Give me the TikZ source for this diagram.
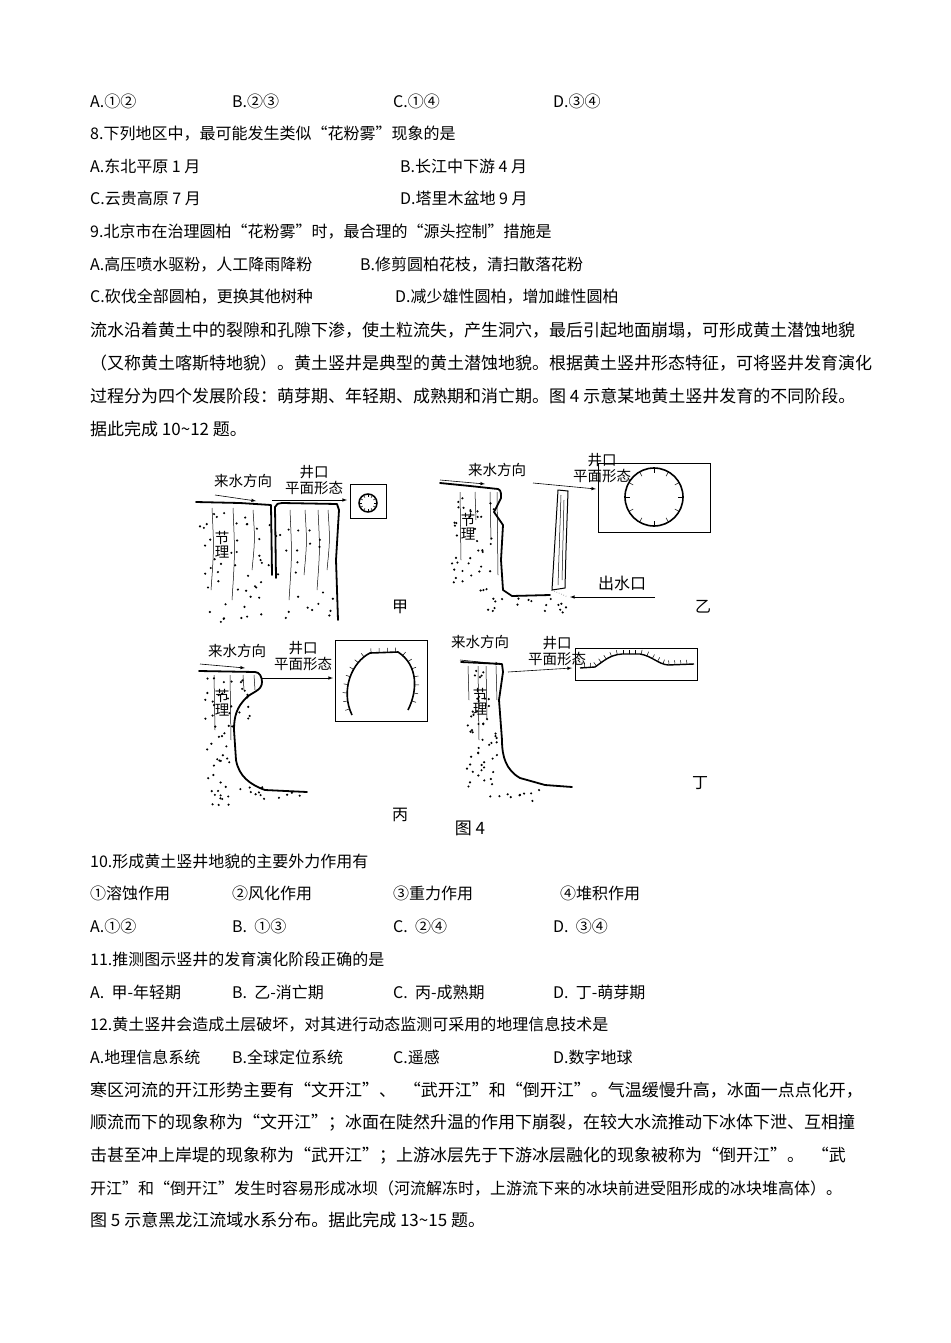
\documentclass[tikz,border=0pt]{standalone}
\usepackage{fontspec}
\setmainfont{Noto Sans CJK SC}
\usetikzlibrary{decorations.markings}
\begin{document}
\begin{tikzpicture}[x=1pt,y=-1pt,
  t/.style={anchor=west,inner sep=0pt,font=\fontsize{16}{18}\selectfont},
  p/.style={anchor=west,inner sep=0pt,font=\fontsize{17}{19}\selectfont},
  s/.style={inner sep=0pt,font=\fontsize{14.5}{16}\selectfont,align=center},
  thick line/.style={line width=1.8pt,line join=round,line cap=round},
  joint/.style={line width=0.5pt},
  arr/.style={-latex,line width=0.6pt},
  ticks/.style={postaction={decorate,decoration={markings,mark=between positions 0.04 and 0.97 step #1 with {\draw[line width=0.5pt] (0,0) -- (0,4.5pt);}}}}]
\useasboundingbox[fill=white] (0,0) rectangle (950,1343);
% ---- text above
\node[t] (a1) at (90,101) {A.①②};
\node[t] (b1) at (232,101) {B.②③};
\node[t] (c1) at (393,101) {C.①④};
\node[t] (d1) at (553,101) {D.③④};
\node[t] (q8) at (90,134) {8.下列地区中，最可能发生类似“花粉雾”现象的是};
\node[t] (q8a) at (90,166) {A.东北平原 1 月};
\node[t] (q8b) at (400,166) {B.长江中下游 4 月};
\node[t] (q8c) at (90,198) {C.云贵高原 7 月};
\node[t] (q8d) at (400,198) {D.塔里木盆地 9 月};
\node[t] (q9) at (90,232) {9.北京市在治理圆柏“花粉雾”时，最合理的“源头控制”措施是};
\node[t] (q9a) at (90,265) {A.高压喷水驱粉，人工降雨降粉};
\node[t] (q9b) at (360,265) {B.修剪圆柏花枝，清扫散落花粉};
\node[t] (q9c) at (90,297) {C.砍伐全部圆柏，更换其他树种};
\node[t] (q9d) at (395,297) {D.减少雄性圆柏，增加雌性圆柏};
\node[p] (pa1) at (90,330) {流水沿着黄土中的裂隙和孔隙下渗，使土粒流失，产生洞穴，最后引起地面崩塌，可形成黄土潜蚀地貌};
\node[p] (pa2) at (90,363) {（又称黄土喀斯特地貌）。黄土竖井是典型的黄土潜蚀地貌。根据黄土竖井形态特征，可将竖井发育演化};
\node[p] (pa3) at (90,396) {过程分为四个发展阶段：萌芽期、年轻期、成熟期和消亡期。图 4 示意某地黄土竖井发育的不同阶段。};
\node[p] (pa4) at (90,429) {据此完成 10\char`~12 题。};
% ---- figure
\pgfmathsetseed{7}
% 甲
\draw[thick line] (196,502) -- (240,503) -- (271,505) -- (272,575);
\draw[thick line] (276,578) -- (275,507) to[out=80,in=180] (282,503) -- (337,504) -- (339,510) -- (336,560) -- (338,620);
\foreach \x/\y/\z in {212/508/590,233/508/600,253/510/570,290/510/600,305/510/575,318/510/590,328/510/570}
  \draw[joint] (\x,\y) .. controls (\x+2,{(\y+\z)/2}) .. (\x-1,\z);
\foreach \i in {1,...,70}{\fill ({200+135*rnd},{512+110*rnd}) circle (1.2);}
\node[s] (j1) at (222,545) {节\\[-2pt]理};
\node[s] (lai1) at (243,481) {来水方向};
\draw[arr] (215,495) -- (256,501);
\node[s] (jk1) at (314,480) {井口\\平面形态};
\draw[arr] (272,500) -- (347,500);
\draw[line width=0.6pt] (350,484) rectangle (386,518);
\draw[line width=1.5pt] (368,503) circle (9);
\foreach \a in {0,30,...,330} \draw[line width=0.5pt] (368,503)+(\a:9) -- +(\a:6);
\node[s,font=\fontsize{16}{18}\selectfont] (jia) at (400,607) {甲};
% 乙
\draw[thick line] (440,483) -- (470,486) -- (498,489) to[out=-20,in=90] (501,498) -- (494,512) -- (503,525) -- (501,560) -- (503,590) -- (512,596) -- (550,595);
\draw[line width=1pt] (558,490) -- (568,491) -- (566,550) -- (565,588) -- (552,590) -- (555,540) -- cycle;
\draw[joint] (561,495) -- (558,585); \draw[joint] (564,500) -- (562,580);
\draw[joint,dotted] (552,590) -- (568,597);
\foreach \x/\z in {460/560,475/520,490/540,497/575} \draw[joint] (\x,492) -- (\x+1,\z);
\foreach \i in {1,...,40}{\fill ({450+45*rnd},{495+100*rnd}) circle (1.2);}
\foreach \i in {1,...,18}{\fill ({480+90*rnd},{598+15*rnd}) circle (1.2);}
\node[s] (j2) at (468,527) {节\\[-2pt]理};
\node[s] (lai2) at (497,470) {来水方向};
\draw[arr] (440,480) -- (485,484);
\node[s] (jk2) at (602,468) {井口\\平面形态};
\draw[arr] (533,483) -- (596,489);
\draw[line width=0.6pt] (598,463) rectangle (710,532);
\draw[line width=1.6pt] (654,497) circle (29);
\foreach \a in {0,30,...,330} \draw[line width=0.5pt] (654,497)+(\a:29) -- +(\a:24);
\node[s,font=\fontsize{16}{18}\selectfont] (cw) at (622,583) {出水口};
\draw[arr] (655,597) -- (570,597);
\node[s,font=\fontsize{16}{18}\selectfont] (yi) at (703,607) {乙};
% 丙
\draw[thick line] (199,671) -- (255,672) to[out=0,in=90] (262,682) to[out=-90,in=45] (246,698) to[out=-135,in=90] (234,730) -- (236,760) to[out=-80,in=160] (265,790) -- (307,792);
\foreach \x/\z in {214/730,230/740,243/690,254/690} \draw[joint] (\x,675) -- (\x+1,\z);
\foreach \i in {1,...,25}{\fill ({205+45*rnd},{675+50*rnd}) circle (1.2);}
\foreach \i in {1,...,30}{\fill ({205+28*rnd},{725+80*rnd}) circle (1.2);}
\foreach \i in {1,...,12}{\fill ({240+65*rnd},{785+18*rnd}) circle (1.2);}
\node[s] (j3) at (222,703) {节\\[-2pt]理};
\node[s] (lai3) at (237,651) {来水方向};
\draw[arr] (200,664) -- (245,668);
\node[s] (jk3) at (303,656) {井口\\平面形态};
\draw[arr] (262,678) -- (333,678);
\draw[line width=0.6pt] (335,640) rectangle (427,721);
\draw[line width=1.6pt,ticks=0.05] (352,715) .. controls (340,690) and (352,662) .. (370,653) -- (398,652) .. controls (418,665) and (418,690) .. (408,710);
\node[s,font=\fontsize{16}{18}\selectfont] (bing) at (400,815) {丙};
% 丁
\draw[thick line] (461,662) -- (502,664) -- (503,672) -- (499,700) -- (502,740) to[out=-90,in=150] (520,778) -- (545,785) -- (572,787);
\foreach \x/\z in {468/700,478/740,486/720,496/700} \draw[joint] (\x,666) -- (\x+1,\z);
\foreach \i in {1,...,50}{\fill ({467+30*rnd},{670+120*rnd}) circle (1.2);}
\foreach \i in {1,...,10}{\fill ({490+55*rnd},{790+12*rnd}) circle (1.2);}
\node[s] (j4) at (480,702) {节\\[-2pt]理};
\node[s] (lai4) at (480,642) {来水方向};
\draw[arr] (460,660) -- (500,664);
\node[s] (jk4) at (557,651) {井口\\平面形态};
\draw[arr] (508,672) -- (572,668);
\draw[line width=0.6pt] (575,648) rectangle (697,680);
\draw[line width=1.4pt,ticks=0.05] (580,668) -- (595,667) .. controls (605,660) and (610,655) .. (622,654) -- (640,654) .. controls (652,656) and (658,664) .. (668,665) -- (694,664);
\node[s,font=\fontsize{16}{18}\selectfont] (ding) at (700,783) {丁};
\node[s,font=\fontsize{17}{18}\selectfont] (fig) at (470,828) {图 4};
% ---- text below
\node[t] (q10) at (90,861) {10.形成黄土竖井地貌的主要外力作用有};
\node[t] (o1) at (90,893) {①溶蚀作用};
\node[t] (o2) at (232,893) {②风化作用};
\node[t] (o3) at (393,893) {③重力作用};
\node[t] (o4) at (560,893) {④堆积作用};
\node[t] (a10) at (90,926) {A.①②};
\node[t] (b10) at (232,926) {B.\ \ ①③};
\node[t] (c10) at (393,926) {C.\ \ ②④};
\node[t] (d10) at (553,926) {D.\ \ ③④};
\node[t] (q11) at (90,959) {11.推测图示竖井的发育演化阶段正确的是};
\node[t] (a11) at (90,992) {A.\ \ 甲-年轻期};
\node[t] (b11) at (232,992) {B.\ \ 乙-消亡期};
\node[t] (c11) at (393,992) {C.\ \ 丙-成熟期};
\node[t] (d11) at (553,992) {D.\ \ 丁-萌芽期};
\node[t] (q12) at (90,1025) {12.黄土竖井会造成土层破坏，对其进行动态监测可采用的地理信息技术是};
\node[t] (a12) at (90,1057) {A.地理信息系统};
\node[t] (b12) at (232,1057) {B.全球定位系统};
\node[t] (c12) at (393,1057) {C.遥感};
\node[t] (d12) at (553,1057) {D.数字地球};
\node[p] (pb1) at (90,1090) {寒区河流的开江形势主要有“文开江”、\ \ “武开江”和“倒开江”。气温缓慢升高，冰面一点点化开，};
\node[p] (pb2) at (90,1123) {顺流而下的现象称为“文开江”；冰面在陡然升温的作用下崩裂，在较大水流推动下冰体下泄、互相撞};
\node[p] (pb3) at (90,1156) {击甚至冲上岸堤的现象称为“武开江”；上游冰层先于下游冰层融化的现象被称为“倒开江”。\ \ “武};
\node[p,font=\fontsize{16}{19}\selectfont] (pb4) at (90,1188) {开江”和“倒开江”发生时容易形成冰坝（河流解冻时，上游流下来的冰块前进受阻形成的冰块堆高体）。};
\node[p] (pb5) at (90,1220) {图 5 示意黑龙江流域水系分布。据此完成 13\char`~15 题。};
\end{tikzpicture}
\end{document}
